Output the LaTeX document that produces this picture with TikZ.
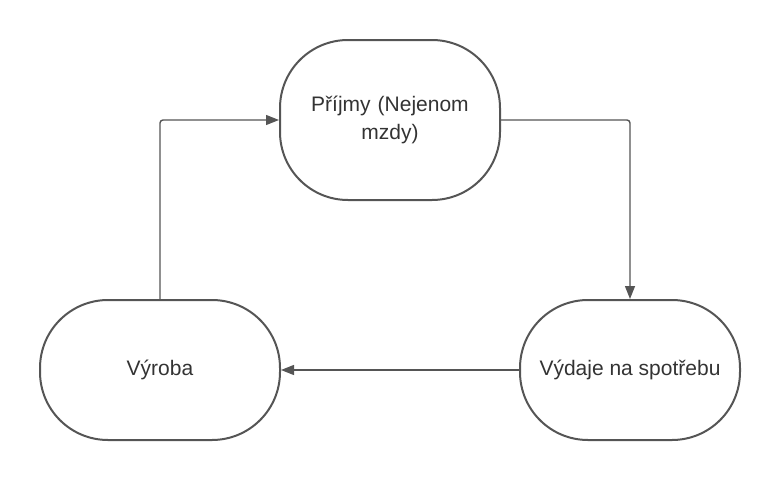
\documentclass[tikz,border=0pt]{standalone}
\usepackage{fontspec}
\setmainfont{Liberation Sans}
\usetikzlibrary{arrows.meta}
\definecolor{linegray}{HTML}{555555}
\tikzset{
  stadium/.style={draw=linegray, line width=2pt, rounded corners=68pt, align=center,
    inner sep=0pt, font=\fontsize{21}{28}\selectfont, text=black!80},
  flow/.style={draw=linegray, line width=1.4pt, rounded corners=3pt,
    -{Triangle[length=13pt,width=10pt]}}
}
\begin{document}
\begin{tikzpicture}[x=1pt,y=-1pt]
  \useasboundingbox (0,0) rectangle (780,480);
  \node[stadium, minimum width=220pt, minimum height=160pt, text width=210pt] (prijmy) at (390,120) {Příjmy (Nejenom\\mzdy)};
  \node[stadium, minimum width=240pt, minimum height=140pt] (vyroba) at (160,370) {Výroba};
  \node[stadium, minimum width=220pt, minimum height=140pt] (vydaje) at (630,370) {Výdaje na spotřebu};
  % circular flow
  \draw[flow] (vyroba.north) |- (prijmy.west);
  \draw[flow] (prijmy.east) -| (vydaje.north);
  \draw[flow] (vydaje.west) -- (vyroba.east);
\end{tikzpicture}
\end{document}
